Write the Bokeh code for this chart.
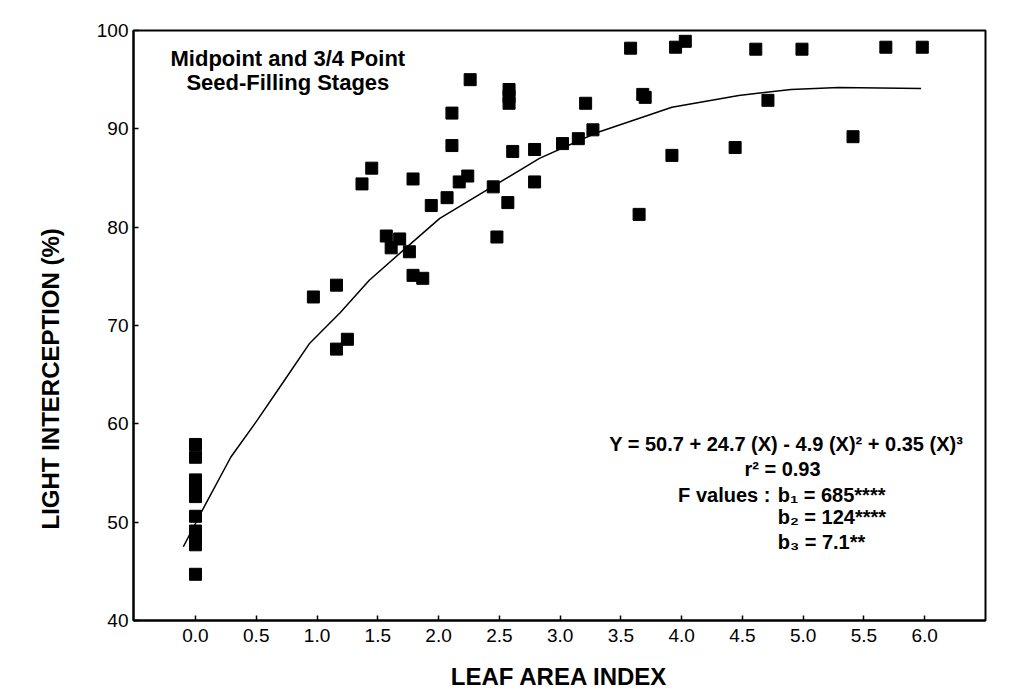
from bokeh.plotting import figure
from bokeh.models import Label, FixedTicker, NumeralTickFormatter, Range1d, Title
from bokeh.embed import file_html
from bokeh.resources import INLINE

# ---- data ----
lai = [0.0, 0.0, 0.0, 0.0, 0.0, 0.0, 0.0, 0.0, 0.0, 0.0,
       0.97, 1.16, 1.16, 1.25, 1.37, 1.45, 1.57, 1.61, 1.68, 1.76,
       1.79, 1.79, 1.87, 1.94, 2.07, 2.11, 2.11, 2.17, 2.24, 2.26,
       2.45, 2.48, 2.57, 2.58, 2.58, 2.58, 2.61, 2.79, 2.79, 3.02,
       3.15, 3.21, 3.27, 3.58, 3.65, 3.68, 3.70, 3.92, 3.95, 4.03,
       4.44, 4.61, 4.71, 4.99, 5.41, 5.68, 5.98]
light = [57.9, 56.6, 54.3, 53.5, 52.6, 50.6, 49.1, 48.2, 47.7, 44.7,
         72.9, 74.1, 67.6, 68.6, 84.4, 86.0, 79.1, 77.9, 78.8, 77.5,
         84.9, 75.1, 74.8, 82.2, 83.0, 91.6, 88.3, 84.6, 85.2, 95.0,
         84.1, 79.0, 82.5, 94.0, 93.3, 92.6, 87.7, 87.9, 84.6, 88.5,
         89.0, 92.6, 89.9, 98.2, 81.3, 93.5, 93.2, 87.3, 98.3, 98.9,
         88.1, 98.1, 92.9, 98.1, 89.2, 98.3, 98.3]

fit_x = [-0.10, 0.06, 0.29, 0.51, 0.72, 0.94, 1.19, 1.43, 1.76, 2.01,
         2.44, 2.83, 3.30, 3.92, 4.47, 4.90, 5.29, 5.97]
fit_y = [47.5, 51.3, 56.6, 60.4, 64.2, 68.2, 71.3, 74.6, 78.2, 80.9,
         84.1, 87.0, 89.6, 92.2, 93.4, 94.0, 94.2, 94.1]

x_ticks = [0.0, 0.5, 1.0, 1.5, 2.0, 2.5, 3.0, 3.5, 4.0, 4.5, 5.0, 5.5, 6.0]
y_ticks = [40, 50, 60, 70, 80, 90, 100]

x_title = "LEAF AREA INDEX"
y_title = "LIGHT INTERCEPTION (%)"
title_lines = ["Midpoint and 3/4 Point", "Seed-Filling Stages"]
eq_line = "Y = 50.7 + 24.7 (X) - 4.9 (X)\u00b2 + 0.35 (X)\u00b3"
r2_line = "r\u00b2 = 0.93"
f_label = "F values :"
b_lines = ["b\u2081 = 685****", "b\u2082 = 124****", "b\u2083 = 7.1**"]

FONT = "Liberation Sans"

p = figure(width=1016, height=692, output_backend="svg", toolbar_location=None,
           x_range=Range1d(-0.51, 6.50), y_range=Range1d(40, 100),
           min_border_left=133, min_border_top=30, min_border_right=31,
           min_border_bottom=71)
p.background_fill_color = "white"
p.border_fill_color = "white"
p.outline_line_color = "black"
p.outline_line_width = 2
p.grid.visible = False

p.line(fit_x, fit_y, line_color="black", line_width=1.5)
p.scatter(lai, light, marker="square", size=12, fill_color="black", line_color="black")

for ax in (p.xaxis[0], p.yaxis[0]):
    ax.axis_line_color = "black"
    ax.axis_line_width = 2
    ax.major_tick_in = 5
    ax.major_tick_out = 0
    ax.minor_tick_line_color = None
    ax.major_tick_line_color = "black"
    ax.major_tick_line_width = 1.5
    ax.major_label_text_font = FONT
    ax.major_label_text_font_size = "19px"
    ax.major_label_text_color = "black"
    ax.axis_label_text_font = FONT
    ax.axis_label_text_font_style = "bold"
    ax.axis_label_text_font_size = "24px"
    ax.axis_label_text_color = "black"

p.xaxis.ticker = FixedTicker(ticks=x_ticks)
p.xaxis.formatter = NumeralTickFormatter(format="0.0")
p.xaxis.major_label_standoff = 8
p.xaxis.axis_label = x_title
p.xaxis.axis_label_standoff = 18

p.yaxis.ticker = FixedTicker(ticks=y_ticks)
p.yaxis.major_label_standoff = 5

# y-axis title, placed like the reference (slightly below the frame centre)
p.add_layout(Title(text=y_title, align="left", offset=91, standoff=58,
                   vertical_align="middle", text_font=FONT, text_font_style="bold",
                   text_font_size="24px", text_color="black"), "left")

# title annotation
for txt, yy in zip(title_lines, [97.2, 94.7]):
    p.add_layout(Label(x=0.76, y=yy, text=txt, text_align="center", text_baseline="middle",
                       text_font=FONT, text_font_style="bold", text_font_size="22px",
                       text_color="black"))

# equation block
EQ = "20px"
p.add_layout(Label(x=4.86, y=57.9, text=eq_line, text_align="center", text_baseline="middle",
                   text_font=FONT, text_font_style="bold", text_font_size=EQ, text_color="black"))
p.add_layout(Label(x=4.83, y=55.4, text=r2_line, text_align="center", text_baseline="middle",
                   text_font=FONT, text_font_style="bold", text_font_size=EQ, text_color="black"))
p.add_layout(Label(x=4.73, y=52.8, text=f_label, text_align="right", text_baseline="middle",
                   text_font=FONT, text_font_style="bold", text_font_size=EQ, text_color="black"))
for txt, yy in zip(b_lines, [52.8, 50.5, 48.0]):
    p.add_layout(Label(x=4.79, y=yy, text=txt, text_align="left", text_baseline="middle",
                       text_font=FONT, text_font_style="bold", text_font_size=EQ,
                       text_color="black"))

open("out.html", "w").write(file_html(p, INLINE))
